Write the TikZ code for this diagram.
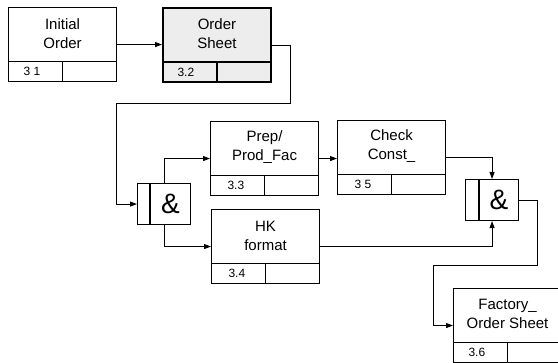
\documentclass[tikz,border=0pt]{standalone}
\usepackage{fontspec}
\setmainfont{Liberation Sans}
\usetikzlibrary{positioning, arrows.meta, calc}

\begin{document}
\begin{tikzpicture}[
    x=1pt, y=-1pt,
    >={Triangle[length=7pt, width=5pt]},
    box/.style={
        draw, line width=1.1pt, anchor=north west, inner sep=0pt,
        minimum width=108pt, minimum height=74pt},
    refbox/.style={box, line width=2pt, fill=black!7},  % referenced unit
    title/.style={font=\fontsize{15}{19}\selectfont, align=center},
    cell/.style={draw, line width=1.1pt, inner sep=0pt,
                 minimum width=54pt, minimum height=20pt},
    num/.style={font=\fontsize{12}{12}\selectfont, anchor=west},
    junc/.style={draw, line width=1.1pt, anchor=north west, inner sep=0pt,
                 minimum width=53pt, minimum height=41pt},
    amp/.style={font=\fontsize{28}{28}\selectfont},
    flow/.style={->, line width=0.9pt},
]
\useasboundingbox (0,0) rectangle (558,363);

% ============================ units of behaviour ========================
\node[box] (init) at (8,7) {};
\node[title] (initT) at ([yshift=-27pt]init.north) {Initial\\Order};
\node[cell, anchor=south west] (initA) at (init.south west) {};
\node[cell, anchor=south east] (initB) at (init.south east) {};
\node[num] (initN) at ([xshift=12pt]initA.west) {3 1};

\node[refbox] (order) at (162,7) {};
\node[title] (orderT) at ([yshift=-27pt]order.north) {Order\\Sheet};
\node[cell, line width=2pt, anchor=south west] (orderA) at (order.south west) {};
\node[cell, line width=2pt, anchor=south east] (orderB) at (order.south east) {};
\node[num] (orderN) at ([xshift=12pt]orderA.west) {3.2};

\node[box] (prep) at (210,121) {};
\node[title] (prepT) at ([yshift=-26pt]prep.north) {Prep/\\Prod\_Fac};
\node[cell, anchor=south west] (prepA) at (prep.south west) {};
\node[cell, anchor=south east] (prepB) at (prep.south east) {};
\node[num] (prepN) at ([xshift=14pt]prepA.west) {3.3};

\node[box] (check) at (337,120) {};
\node[title] (checkT) at ([yshift=-26pt]check.north) {Check\\Const\_};
\node[cell, anchor=south west] (checkA) at (check.south west) {};
\node[cell, anchor=south east] (checkB) at (check.south east) {};
\node[num] (checkN) at ([xshift=14pt]checkA.west) {3 5};

\node[box] (hk) at (211,209) {};
\node[title] (hkT) at ([yshift=-27pt]hk.north) {HK\\format};
\node[cell, anchor=south west] (hkA) at (hk.south west) {};
\node[cell, anchor=south east] (hkB) at (hk.south east) {};
\node[num] (hkN) at ([xshift=14pt]hkA.west) {3.4};

\node[box] (factory) at (453,288) {};
\node[title] (factoryT) at ([yshift=-26pt]factory.north) {Factory\_\\Order Sheet};
\node[cell, anchor=south west] (factoryA) at (factory.south west) {};
\node[cell, anchor=south east] (factoryB) at (factory.south east) {};
\node[num] (factoryN) at ([xshift=12pt]factoryA.west) {3.6};

% ============================ AND junctions =============================
\node[junc] (andA) at (137,183) {};
\draw[line width=1.1pt] ([xshift=13pt]andA.north west) -- ([xshift=13pt]andA.south west);
\node[amp] (andAsym) at ([xshift=6.5pt]andA.center) {\&};

\node[junc] (andB) at (465,179) {};
\draw[line width=1.1pt] ([xshift=14pt]andB.north west) -- ([xshift=14pt]andB.south west);
\node[amp] (andBsym) at ([xshift=7pt]andB.center) {\&};

% ============================ links =====================================
\coordinate (r1) at (290,103);
\coordinate (r2) at (116,103);
\coordinate (r3) at (537,265);
\coordinate (r4) at (433,265);

\draw[flow] (init.east) -- (init.east -| order.west);
\draw[flow] (order.east) -| (r1) -- (r2) |- (andA.west);
\draw[flow] (andA.north) |- (prep.west);
\draw[flow] (andA.south) |- (hk.west);
\draw[flow] (prep.east) -- (prep.east -| check.west);
\draw[flow] (check.east) -| (andB.north);
\draw[flow] (hk.east) -| (andB.south);
\draw[flow] (andB.east) -| (r3) -- (r4) |- (factory.west);

\end{tikzpicture}
\end{document}
